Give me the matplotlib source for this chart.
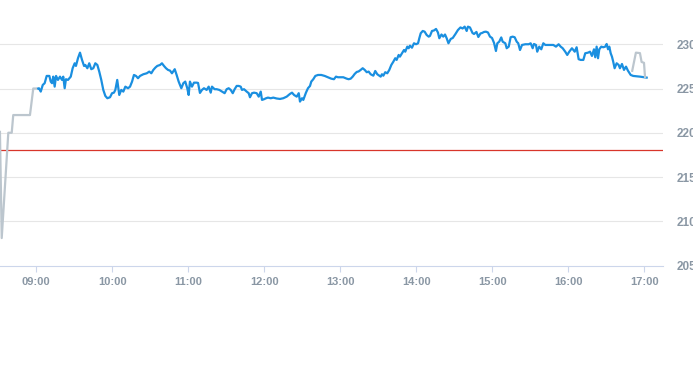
import matplotlib
matplotlib.use("Agg")
import matplotlib.pyplot as plt
import numpy as np

# minutes after 09:00 and prices
pre_t = [-28.7, -27.3, -22.1, -19.4, -18.2, -5.0, -2.4, 0.0]
pre_v = [220.1, 208.1, 220.0, 220.0, 222.0, 222.0, 225.0, 225.0]

main_t = [1.5, 2.1, 3.5, 5.1, 6.6, 8.2, 10.3, 11.4, 12.4, 13.4, 14.5, 15.6, 17.1, 18.7, 20.3, 21.3, 22.4, 23.4, 25.0,
          27.2, 28.7, 30.3, 31.3, 32.9, 34.5, 36.1, 37.7, 38.7, 40.3, 41.8, 43.4, 45.0, 46.6, 48.2, 49.7, 51.3, 52.9,
          54.5, 56.1, 58.2, 59.8, 61.3, 62.4, 63.9, 65.5, 67.1, 68.7, 70.3, 72.4, 74.0, 75.6, 77.1, 78.7, 80.3, 81.9,
          84.5, 87.2, 89.2, 90.8, 92.4, 94.0, 95.5, 97.7, 99.2, 100.8, 102.4, 104.0, 105.6, 107.1, 109.3, 110.8, 112.4,
          114.5, 116.1, 117.6, 119.2, 120.3, 121.3, 122.9, 124.5, 126.6, 127.7, 129.2, 130.8, 132.4, 134.5, 136.1,
          137.7, 138.7, 140.8, 142.4, 144.5, 146.6, 148.7, 150.3, 151.9, 153.5, 155.1, 156.6, 158.2, 159.8, 161.4,
          162.4, 164.0, 166.1, 167.7, 168.7, 170.3, 171.9, 174.0, 175.6, 177.2, 178.2, 179.8, 181.4, 182.9, 185.1,
          187.1, 189.8, 192.4, 195.0, 197.7, 200.3, 201.9, 203.5, 205.6, 207.2, 208.2, 209.8, 210.8, 212.9, 214.5,
          216.1, 217.1, 218.7, 220.3, 222.4, 225.0, 227.7, 230.3, 232.9, 235.0, 236.6, 238.2, 239.8, 242.4, 245.1,
          246.6, 248.2, 249.8, 251.4, 253.0, 254.5, 256.1, 257.7, 259.3, 260.9, 262.4, 264.0, 266.1, 267.6, 269.2,
          270.8, 271.9, 272.9, 274.0, 275.5, 277.1, 278.7, 280.3, 281.9, 283.4, 284.5, 286.1, 287.1, 288.7, 290.3,
          291.3, 292.9, 294.0, 295.0, 296.6, 298.2, 299.8, 301.4, 302.4, 303.5, 305.1, 306.6, 308.2, 309.8, 310.8,
          312.4, 314.0, 315.6, 317.1, 318.2, 319.9, 321.3, 322.7, 324.0, 325.4, 327.2, 328.8, 330.8, 332.9, 334.9,
          336.6, 338.2, 339.8, 340.8, 342.4, 344.4, 345.6, 347.5, 349.0, 350.7, 351.9, 353.5, 355.0, 356.6, 358.2,
          359.8, 361.4, 362.9, 364.0, 365.5, 367.1, 368.2, 370.3, 371.4, 373.0, 374.5, 376.1, 377.7, 379.3, 380.5,
          381.9, 383.5, 386.1, 388.8, 390.3, 391.9, 392.9, 394.5, 395.5, 397.1, 398.7, 400.3, 401.9, 404.0, 406.1,
          408.2, 410.3, 412.4, 414.0, 415.6, 417.6, 419.2, 420.8, 422.9, 425.1, 426.6, 428.2, 429.8, 431.9, 433.4,
          435.6, 437.2, 438.7, 440.3, 441.3, 442.4, 443.5, 444.5, 446.1, 447.6, 449.2, 450.3, 451.4, 452.4, 453.5,
          454.5, 455.5, 456.6, 458.2, 459.8, 460.8, 462.4, 464.0, 465.6, 467.1, 469.3, 471.3, 476.6, 481.9]
main_v = [225.0, 225.03, 224.65, 225.40, 225.60, 226.42, 226.42, 225.78, 225.60, 226.34, 225.21, 226.42, 225.97, 226.34,
          225.97, 226.34, 225.03, 226.05, 225.97, 226.34, 227.29, 227.85, 227.55, 228.42, 229.05, 228.23, 227.55,
          227.66, 227.29, 227.85, 227.18, 227.29, 227.85, 227.66, 226.91, 225.97, 224.84, 224.16, 223.90, 224.01,
          224.47, 224.53, 224.84, 225.97, 224.27, 224.84, 224.65, 225.21, 225.03, 225.21, 225.78, 226.53, 226.42,
          226.16, 226.42, 226.61, 226.72, 226.91, 226.72, 227.10, 227.36, 227.55, 227.66, 227.85, 227.55, 227.29,
          227.10, 227.02, 226.72, 227.18, 226.53, 225.78, 225.03, 225.60, 225.78, 225.03, 224.27, 225.78, 225.21,
          225.66, 225.66, 225.63, 224.50, 224.84, 225.03, 224.84, 225.21, 224.53, 225.21, 224.92, 224.92, 224.84,
          224.65, 224.47, 224.92, 225.03, 224.84, 224.47, 224.92, 225.29, 225.29, 225.21, 224.84, 224.92, 224.65,
          224.47, 224.01, 224.47, 224.53, 224.47, 224.08, 224.65, 223.71, 223.79, 223.90, 223.97, 223.90, 223.97,
          223.87, 223.82, 223.90, 224.08, 224.39, 224.53, 224.27, 224.08, 224.47, 223.52, 223.90, 223.71, 224.53,
          225.03, 225.29, 225.78, 226.05, 226.42, 226.53, 226.53, 226.42, 226.27, 226.11, 226.05, 226.34, 226.27,
          226.27, 226.27, 226.11, 226.05, 226.11, 226.34, 226.65, 226.87, 226.93, 227.10, 227.29, 227.10, 226.84,
          226.91, 226.61, 226.45, 226.98, 226.61, 226.45, 226.34, 226.61, 226.45, 226.84, 226.72, 227.10, 227.66,
          228.03, 228.42, 228.23, 228.79, 228.60, 228.98, 229.35, 229.16, 229.73, 229.55, 229.84, 229.61, 230.11,
          230.00, 230.11, 230.68, 231.24, 231.50, 231.42, 231.05, 230.86, 230.94, 231.50, 231.56, 231.73, 231.33,
          230.68, 231.10, 230.86, 231.10, 230.68, 230.11, 230.60, 230.71, 231.13, 231.61, 231.90, 231.78, 231.99,
          231.50, 231.99, 231.90, 231.27, 231.16, 231.39, 230.82, 231.22, 231.27, 231.39, 231.42, 231.33, 230.86,
          230.71, 230.15, 229.24, 230.11, 230.29, 230.77, 230.29, 230.11, 229.55, 229.73, 230.79, 230.86, 230.79,
          230.29, 230.11, 229.35, 229.92, 230.00, 230.00, 230.11, 229.55, 230.03, 229.92, 229.16, 229.73, 229.43,
          230.11, 229.92, 229.92, 229.92, 229.92, 229.73, 230.00, 229.73, 229.55, 229.16, 228.79, 229.16, 229.55,
          229.16, 229.66, 228.31, 228.23, 228.23, 228.98, 229.05, 229.16, 228.68, 229.43, 228.53, 229.73, 228.42,
          229.43, 229.73, 229.66, 229.73, 230.03, 229.43, 229.73, 228.98, 228.60, 228.03, 227.29, 227.85, 227.66,
          227.29, 227.77, 227.10, 227.47, 227.02, 226.53, 226.42, 226.34, 226.23]

post_t = [470.5, 473.4, 476.6, 477.9, 479.8, 480.6]
post_v = [227.0, 229.05, 229.0, 228.0, 227.9, 226.3]

reference_level = 218.1
y_ticks = [205, 210, 215, 220, 225, 230]
x_tick_labels = ["09:00", "10:00", "11:00", "12:00", "13:00", "14:00", "15:00", "16:00", "17:00"]

W, H = 693, 365
fig = plt.figure(figsize=(W / 100, H / 100), dpi=100)
ax = fig.add_axes([0, (H - 265.5) / H, 663 / W, 265.5 / H])

grid_c = "#e6e6e6"
for yt in y_ticks[1:]:
    ax.axhline(yt, color=grid_c, lw=0.8, zorder=0)

ax.axhline(reference_level, color="#d8352a", lw=0.9, zorder=2)

ax.plot(pre_t, pre_v, color="#bcc6ce", lw=1.6, zorder=3, solid_joinstyle="round")
ax.plot(main_t, main_v, color="#1a8fe0", lw=1.6, zorder=4, solid_joinstyle="round")
ax.plot(post_t, post_v, color="#bcc6ce", lw=1.6, zorder=5, solid_joinstyle="round")

ax.set_xlim(-28.66, 494.8)
ax.set_ylim(205, 235)

hours = np.arange(len(x_tick_labels)) * 60
ax.set_xticks(hours)
ax.set_xticklabels(x_tick_labels)
ax.set_yticks(y_ticks)
ax.set_yticklabels([str(v) for v in y_ticks])
ax.yaxis.tick_right()

label_c = "#8a97a4"
ax.tick_params(axis="x", length=4, width=0.8, color="#ccd6eb", pad=4,
               labelsize=8, labelcolor=label_c)
ax.tick_params(axis="y", length=0, pad=10, labelsize=8.5, labelcolor=label_c)
for lab in ax.get_xticklabels() + ax.get_yticklabels():
    lab.set_fontfamily("Liberation Sans")
    lab.set_fontweight("bold")

for s in ["top", "left", "right"]:
    ax.spines[s].set_visible(False)
ax.spines["bottom"].set_color("#ccd6eb")
ax.spines["bottom"].set_linewidth(0.8)
ax.set_facecolor("white")

fig.savefig("out.png", dpi=100, facecolor="white")
